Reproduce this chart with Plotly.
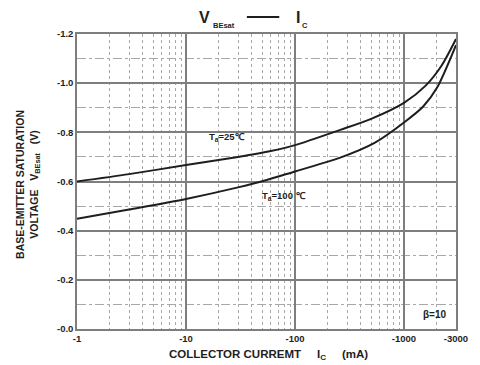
import numpy as np
import plotly.graph_objects as go

# Collector current magnitude (mA) and base-emitter saturation voltage (V)
ic_25 = [1, 3, 10, 30, 60, 100, 260, 500, 1000, 1580, 2200, 3000]
vbe_25 = [-0.600, -0.630, -0.667, -0.700, -0.724, -0.748, -0.810, -0.855, -0.920, -0.990, -1.070, -1.180]

ic_100 = [1, 3, 10, 30, 55, 100, 260, 537, 1000, 1500, 2000, 3000]
vbe_100 = [-0.448, -0.486, -0.529, -0.576, -0.606, -0.641, -0.697, -0.757, -0.840, -0.905, -0.980, -1.155]

x_tickvals = [1, 10, 100, 1000, 3000]
x_ticktext = ["-1", "-10", "-100", "-1000", "-3000"]
y_tickvals = [0, -0.2, -0.4, -0.6, -0.8, -1.0, -1.2]
y_ticktext = ["-0.0", "-0.2", "-0.4", "-0.6", "-0.8", "-1.0", "-1.2"]

x_minor = [m * 10 ** d for d in range(4) for m in range(2, 10) if m * 10 ** d < 3000]
y_minor = [-0.1, -0.3, -0.5, -0.7, -0.9, -1.1]

FONT = "Liberation Sans, Arial, sans-serif"
INK = "#1e1e1e"
GRID = "#7e7e7e"
MINOR = "#a8a8a8"

# plot area in pixels (for placing text in the margins)
L, R, T, B, W, H = 77, 17, 34, 36, 480, 365
PW, PH = W - L - R, H - T - B


def px(x):
    return (x - L) / PW


def py(y):
    return (H - B - y) / PH


fig = go.Figure()
for xs, ys in ((ic_25, vbe_25), (ic_100, vbe_100)):
    fig.add_trace(go.Scatter(
        x=xs, y=ys, mode="lines",
        line=dict(color=INK, width=2, shape="spline", smoothing=0.8),
        showlegend=False, hoverinfo="skip",
    ))

tickfont = dict(size=9.5, family=FONT, color=INK)
fig.update_layout(
    width=W, height=H,
    margin=dict(l=L, r=R, t=T, b=B),
    paper_bgcolor="white", plot_bgcolor="white",
    font=dict(family=FONT, color=INK, size=9),
    xaxis=dict(
        type="log", range=[0, np.log10(3000)],
        tickvals=x_tickvals, ticktext=[f"<b>{t}</b>" for t in x_ticktext],
        showgrid=True, gridcolor=GRID, gridwidth=1.5,
        showline=True, linecolor=GRID, linewidth=1.5, mirror=True,
        ticks="", ticklen=0, tickfont=tickfont,
        minor=dict(tickvals=x_minor, showgrid=True, gridcolor=MINOR,
                   griddash="dot", gridwidth=1, ticks=""),
        zeroline=False,
    ),
    yaxis=dict(
        range=[0, -1.2],
        tickvals=y_tickvals, ticktext=[f"<b>{t}</b>" for t in y_ticktext],
        showgrid=True, gridcolor=GRID, gridwidth=1.5,
        showline=True, linecolor=GRID, linewidth=1.5, mirror=True,
        ticks="", ticklen=0, tickfont=tickfont,
        minor=dict(tickvals=y_minor, showgrid=True, gridcolor=MINOR,
                   griddash="dashdot", gridwidth=1, ticks=""),
        zeroline=False,
    ),
)


def label(x, y, text, size, anchor="left"):
    fig.add_annotation(
        xref="paper", yref="paper", x=px(x), y=py(y), text=f"<b>{text}</b>",
        showarrow=False, font=dict(size=size, family=FONT, color=INK),
        xanchor=anchor, yanchor="middle",
    )


# Title: V_BEsat —— I_C
label(199, 18, "V", 16)
label(213, 26, "BEsat", 7.5)
fig.add_shape(type="line", xref="paper", yref="paper",
              x0=px(250), x1=px(283), y0=py(17), y1=py(17),
              line=dict(color=INK, width=2))
label(298, 18, "I", 16)
label(304, 26, "C", 7.5)

# Axis titles
label(272, 355, "COLLECTOR CURREMT     I<sub>C</sub>     (mA)", 11.5, "center")
fig.add_annotation(
    xref="paper", yref="paper", x=px(27), y=py(184),
    text="<b>BASE-EMITTER SATURATION<br>VOLTAGE   V<sub>BEsat</sub>   (V)</b>",
    showarrow=False, textangle=-90, font=dict(size=10.5, family=FONT, color=INK),
    xanchor="center", yanchor="middle",
)

# Curve labels
fig.add_annotation(x=np.log10(15.5), y=-0.78, text="<b>T<sub>a</sub>=25℃</b>",
                   showarrow=False, xanchor="left", yanchor="middle",
                   font=dict(size=9.5, family=FONT, color=INK))
fig.add_annotation(x=np.log10(48), y=-0.54, text="<b>T<sub>a</sub>=100 ℃</b>",
                   showarrow=False, xanchor="left", yanchor="middle",
                   font=dict(size=9.5, family=FONT, color=INK))
fig.add_annotation(x=np.log10(1420), y=-0.06, text="<b>β=10</b>",
                   showarrow=False, xanchor="left", yanchor="middle",
                   font=dict(size=10, family=FONT, color=INK))

fig.write_html("out.html")
